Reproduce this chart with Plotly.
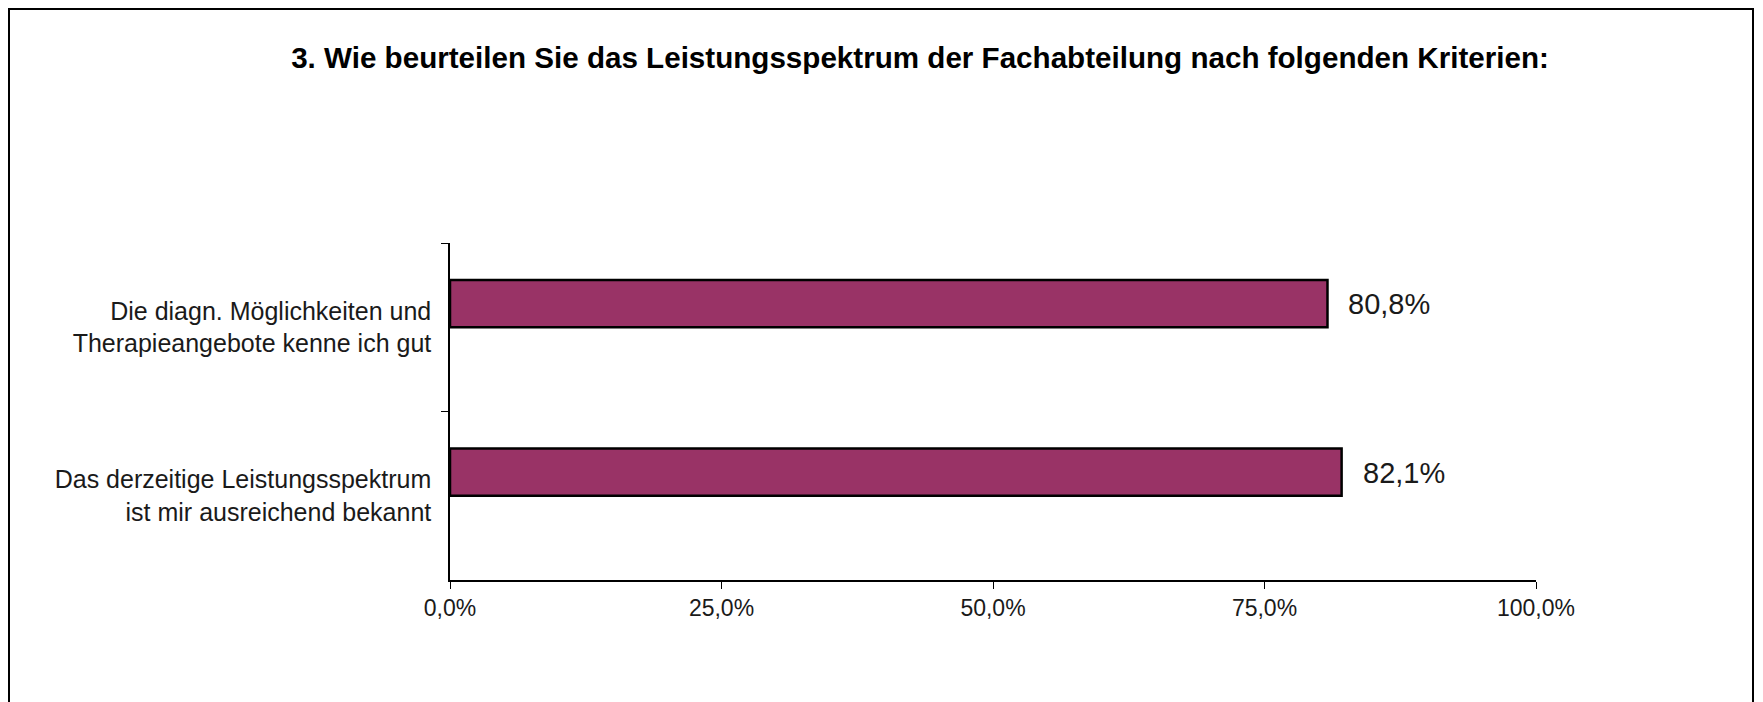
import plotly.graph_objects as go

categories = [
    "Die diagn. Möglichkeiten und<br>Therapieangebote kenne ich gut",
    "Das derzeitige Leistungsspektrum<br>ist mir ausreichend bekannt",
]
values = [80.8, 82.1]
value_labels = ["80,8%", "82,1%"]
tick_vals = [0, 25, 50, 75, 100]
tick_text = ["0,0%", "25,0%", "50,0%", "75,0%", "100,0%"]
title = "3. Wie beurteilen Sie das Leistungsspektrum der Fachabteilung nach folgenden Kriterien:"

W, H = 1763, 702
L, T = 442, 235
pw, ph = 1086, 337
R, B = W - L - pw, H - T - ph
FONT = "Liberation Sans, Arial, sans-serif"

fig = go.Figure()
fig.add_trace(go.Bar(
    y=categories, x=values, orientation="h",
    marker=dict(color="#993366", line=dict(color="black", width=2.5)),
    width=0.28, offset=-0.28, hoverinfo="skip",
))
for c, v, t in zip(categories, values, value_labels):
    fig.add_annotation(x=v, y=c, text=t, showarrow=False, xanchor="left",
                       xshift=19, yshift=23,
                       font=dict(size=29, color="#1a1a1a", family=FONT))

def px2x(p):
    return (p - L) / pw

def py2y(p):
    return (H - B - p) / ph

fig.add_shape(type="rect", xref="paper", yref="paper",
              x0=px2x(1), x1=px2x(1745), y0=py2y(705), y1=py2y(1),
              line=dict(color="black", width=2), fillcolor="rgba(0,0,0,0)")

fig.update_layout(
    width=W, height=H,
    margin=dict(l=L, r=R, t=T, b=B),
    paper_bgcolor="white", plot_bgcolor="white",
    showlegend=False,
    title=dict(text="<b>" + title + "</b>", x=912 / W,
               xanchor="center", y=1 - 50 / H, yanchor="middle",
               font=dict(size=29.6, color="black", family=FONT)),
    font=dict(family=FONT, color="#1a1a1a"),
)
fig.update_xaxes(range=[0, 100], tickvals=tick_vals, ticktext=tick_text,
                 showline=True, linecolor="black", linewidth=1.5,
                 ticks="outside", ticklen=7, tickcolor="black",
                 showgrid=False, zeroline=False,
                 tickfont=dict(size=23, color="#1a1a1a"))
fig.update_yaxes(autorange="reversed", showline=True, linecolor="black",
                 linewidth=1.5, ticks="outside", ticklen=7, tickcolor="black",
                 tickson="boundaries", showgrid=False,
                 tickfont=dict(size=25, color="#1a1a1a"), ticklabelstandoff=12)

fig.write_html("out.html")
